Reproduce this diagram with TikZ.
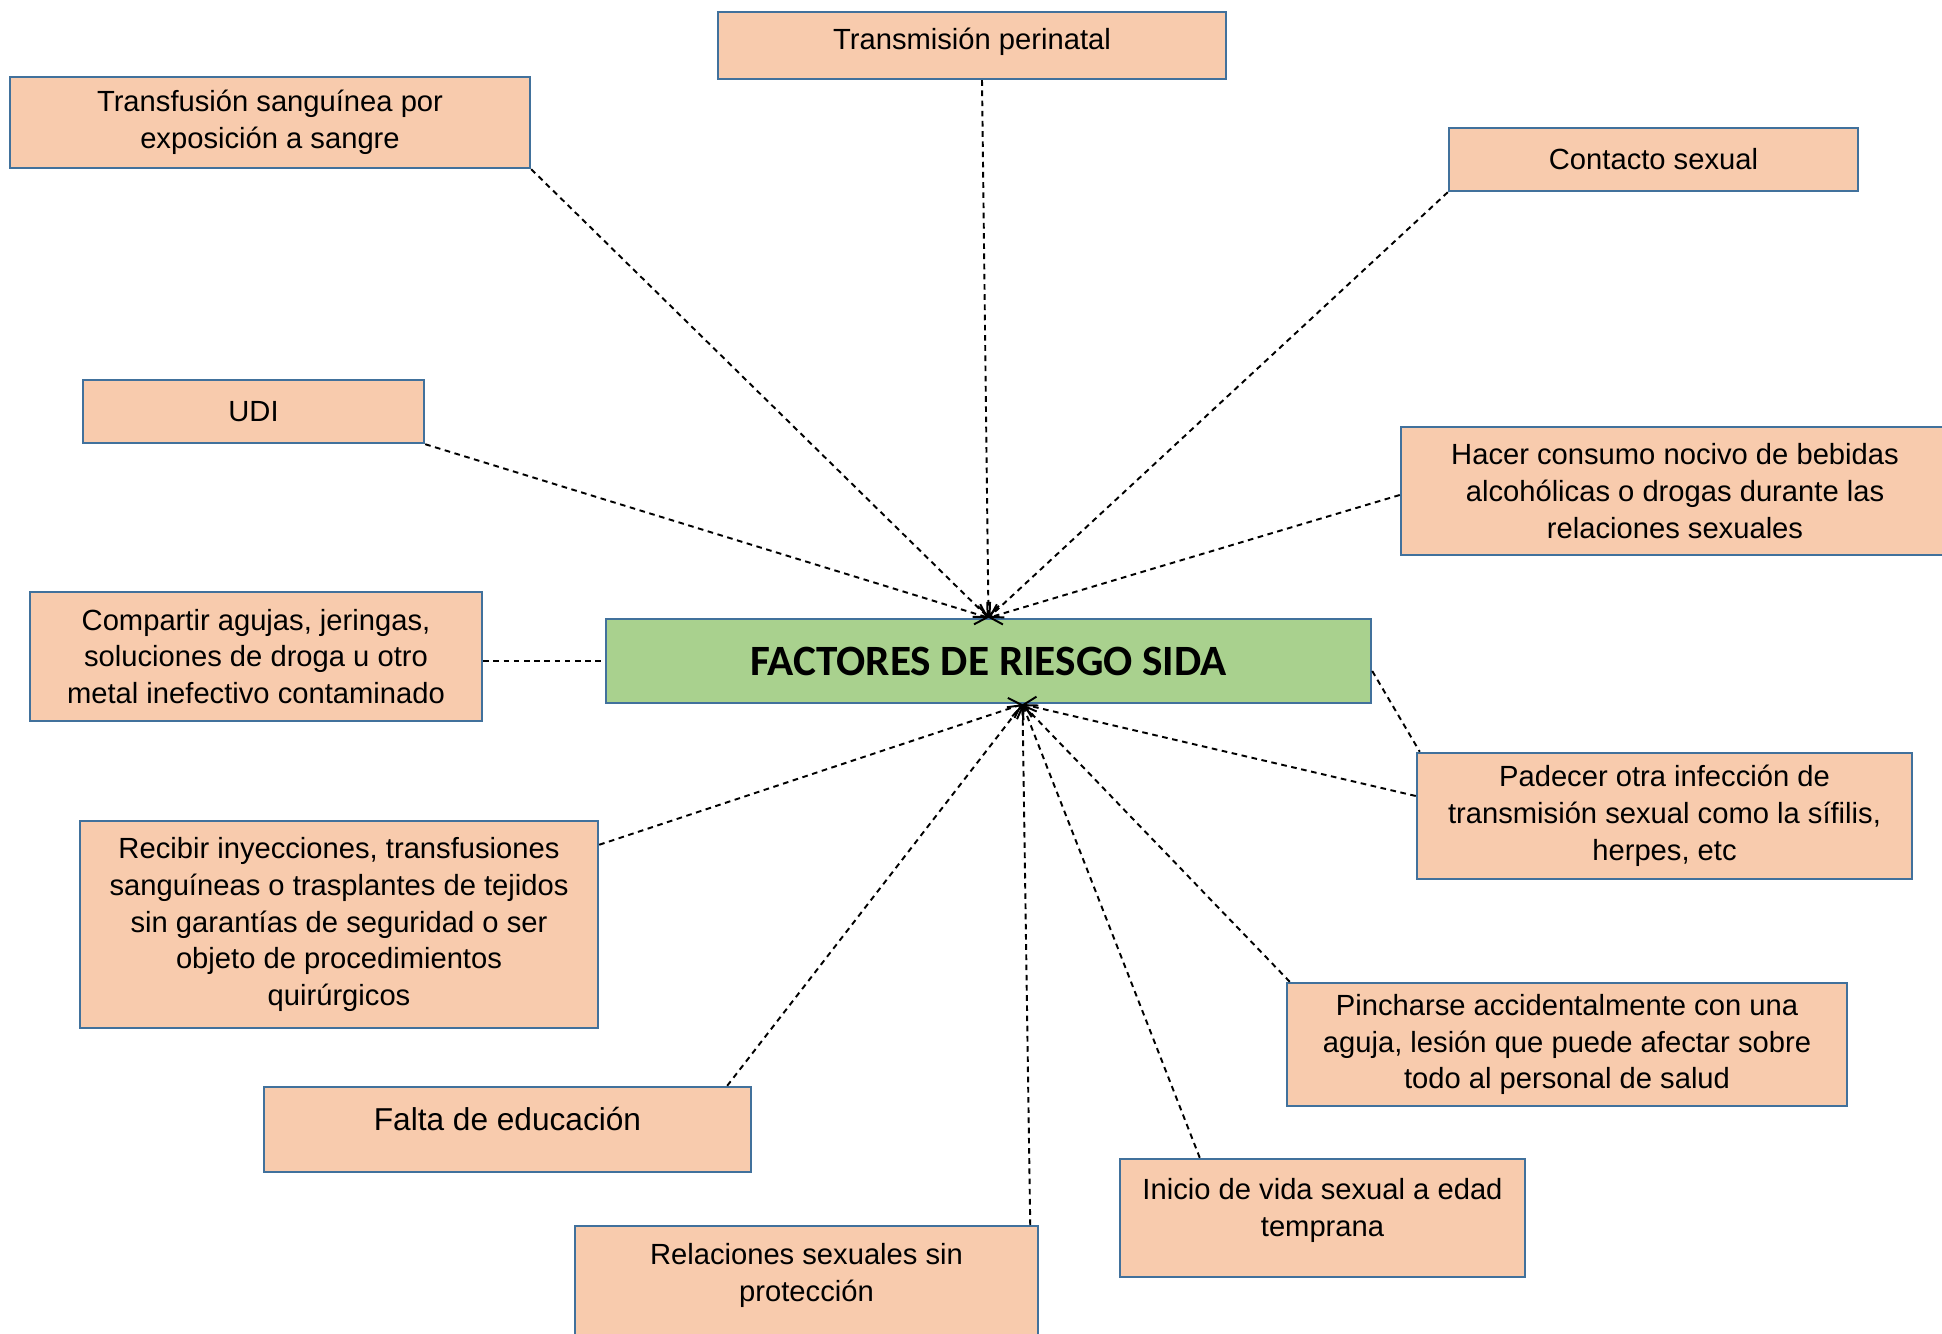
\documentclass[tikz,border=0pt]{standalone}
\usepackage{fontspec}
\setmainfont{Liberation Sans}
\newfontfamily\titlefont{Carlito}
\usetikzlibrary{arrows.meta, calc, positioning}
\tikzset{>={Straight Barb[length=3pt]}}
\definecolor{boxfill}{HTML}{F8CBAD}
\definecolor{boxline}{HTML}{41719C}
\definecolor{mainfill}{HTML}{A9D18E}
\tikzset{
  factor/.style={draw=boxline, fill=boxfill, line width=0.7pt, align=center,
    inner sep=2pt, font=\fontsize{8.3}{10.5}\selectfont},
  mainbox/.style={draw=boxline, fill=mainfill, line width=0.7pt, align=center,
    font=\titlefont\bfseries\fontsize{12.3}{14}\selectfont},
  link/.style={->, line width=0.55pt, dash pattern=on 1.6pt off 1.3pt}
}

\begin{document}
\begin{tikzpicture}

\useasboundingbox (0,0) rectangle (19.42,13.33);

% Central node
\node[mainbox, minimum width=7.65cm, minimum height=0.84cm] (ctr) at (9.885,6.72) {FACTORES DE RIESGO SIDA};
\coordinate (bot) at ($(ctr.south)+(0.34,0)$);

% Risk factors
\node[factor, minimum width=5.08cm, minimum height=0.67cm, text depth=4pt] (perinatal) at (9.72,12.875) {Transmisión perinatal};
\node[factor, minimum width=5.20cm, minimum height=0.91cm] (transf) at (2.70,12.105) {Transfusión sanguínea por\\exposición a sangre};
\node[factor, minimum width=4.09cm, minimum height=0.63cm] (contacto) at (16.535,11.735) {Contacto sexual};
\node[factor, minimum width=3.41cm, minimum height=0.63cm] (udi) at (2.535,9.215) {UDI};
\node[factor, minimum width=5.48cm, minimum height=1.28cm] (alcohol) at (16.75,8.42) {Hacer consumo nocivo de bebidas\\alcohólicas o drogas durante las\\relaciones sexuales};
\node[factor, minimum width=4.52cm, minimum height=1.29cm] (agujas) at (2.56,6.765) {Compartir agujas, jeringas,\\soluciones de droga u otro\\metal inefectivo contaminado};
\node[factor, minimum width=4.95cm, minimum height=1.26cm] (its) at (16.645,5.17) {Padecer otra infección de\\transmisión sexual como la sífilis,\\herpes, etc};
\node[factor, minimum width=5.18cm, minimum height=2.07cm] (inyecc) at (3.39,4.085) {Recibir inyecciones, transfusiones\\sanguíneas o trasplantes de tejidos\\sin garantías de seguridad o ser\\objeto de procedimientos\\quirúrgicos};
\node[factor, minimum width=5.60cm, minimum height=1.23cm] (pinchazo) at (15.67,2.885) {Pincharse accidentalmente con una\\aguja, lesión que puede afectar sobre\\todo al personal de salud};
\node[factor, minimum width=4.87cm, minimum height=0.85cm, text depth=6pt, font=\fontsize{9}{11}\selectfont] (educ) at (5.075,2.035) {Falta de educación};
\node[factor, minimum width=4.05cm, minimum height=1.18cm, text depth=6pt] (inicio) at (13.225,1.15) {Inicio de vida sexual a edad\\temprana};
\node[factor, minimum width=4.63cm, anchor=north, inner ysep=5pt, text depth=1cm] (sinprot) at (8.065,1.08) {Relaciones sexuales sin\\protección};

% Connectors to the top of the central node
\draw[link] (transf.south east) -- (ctr.north);
\draw[link] ([xshift=0.1cm]perinatal.south) -- (ctr.north);
\draw[link] (contacto.south west) -- (ctr.north);
\draw[link] (udi.south east) -- (ctr.north);
\draw[link] ([yshift=-0.04cm]alcohol.west) -- (ctr.north);
\draw[link, -] (agujas.east |- ctr.west) -- (ctr.west);
\draw[link, -] ([yshift=-0.1cm]ctr.east) -- ([xshift=0.04cm]its.north west);

% Connectors to the bottom of the central node
\draw[link] ([yshift=0.2cm]its.west) -- (bot);
\draw[link] ([xshift=0.04cm]pinchazo.north west) -- (bot);
\draw[link] ([xshift=0.81cm]inicio.north west) -- (bot);
\draw[link] ([xshift=-0.09cm]sinprot.north east) -- (bot);
\draw[link] ([xshift=-0.25cm]educ.north east) -- (bot);
\draw[link] ([yshift=-0.25cm]inyecc.north east) -- (bot);

\end{tikzpicture}
\end{document}
